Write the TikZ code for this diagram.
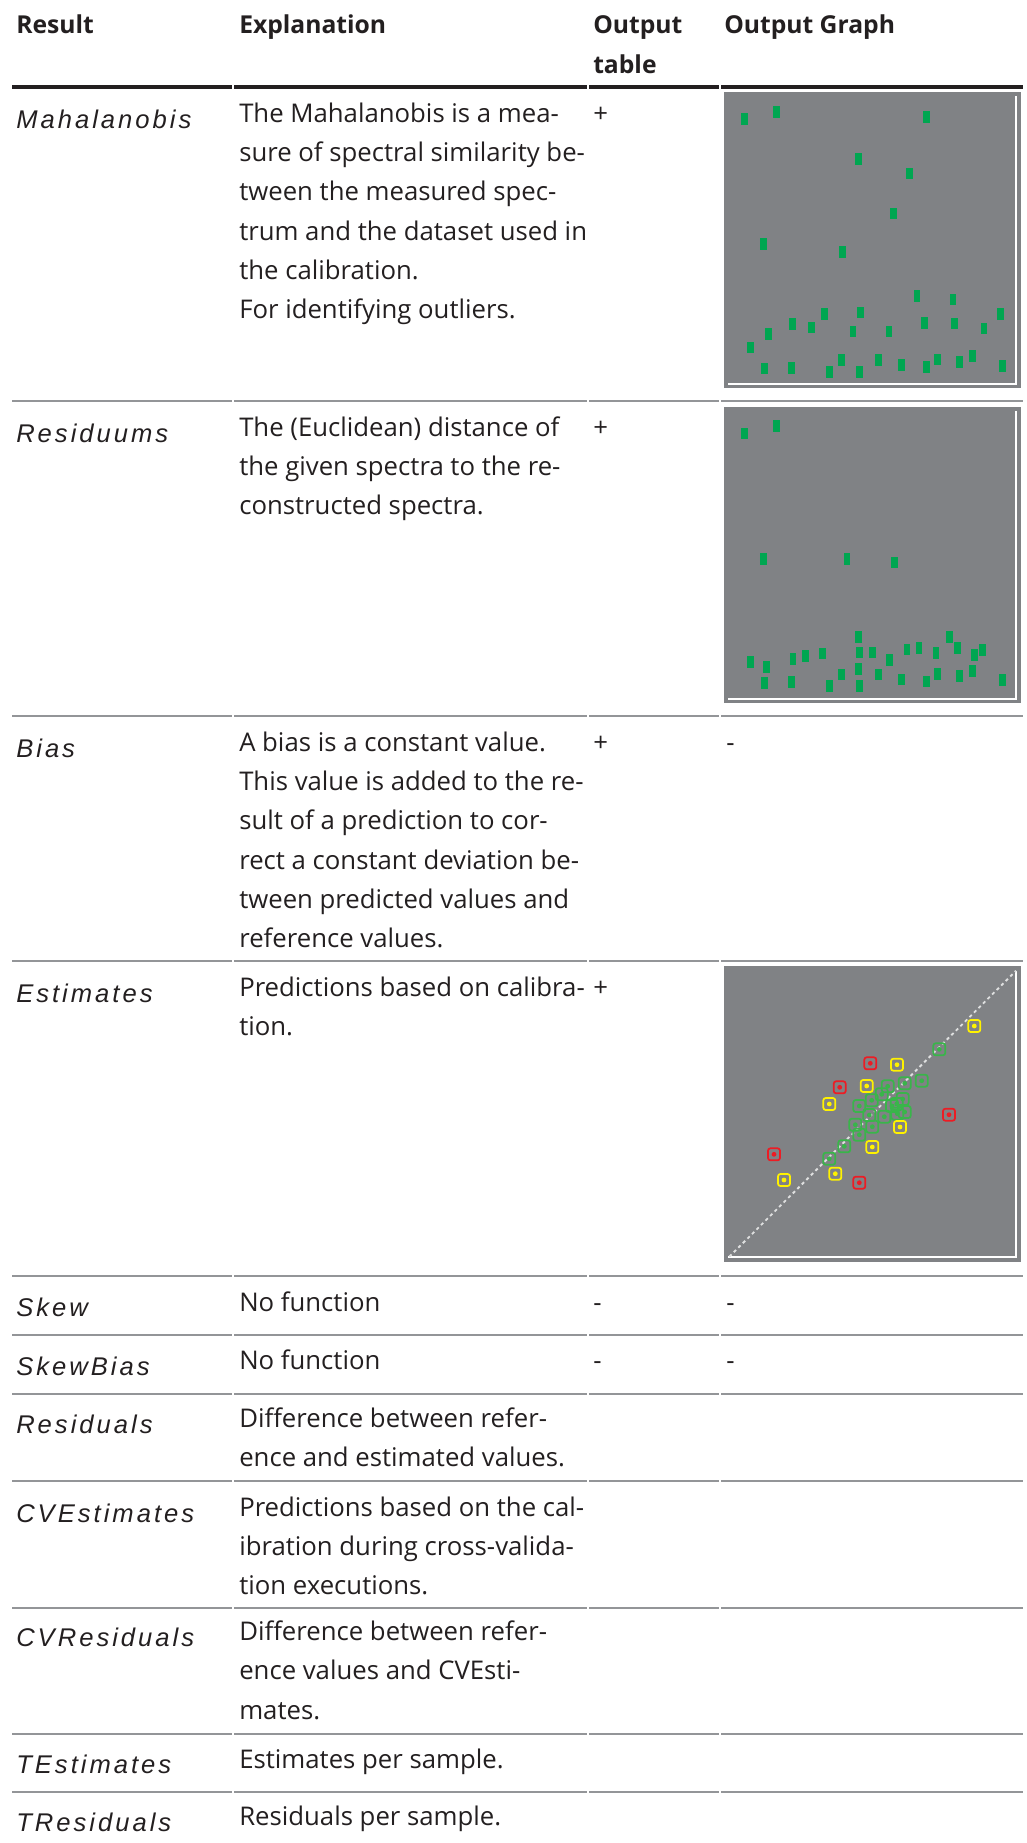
\documentclass[tikz,border=0pt]{standalone}
\usepackage{fontspec}
\setmainfont{Open Sans}
\newfontfamily\lblfont{Liberation Sans}[LetterSpace=11.7]
\usepackage{xcolor}
\usepackage{tikz}
\definecolor{ink}{RGB}{35,31,32}
\definecolor{rulegray}{RGB}{147,149,152}
\definecolor{plotbg}{RGB}{128,130,133}
\definecolor{mgreen}{RGB}{0,166,81}
\definecolor{egreen}{RGB}{57,181,74}
\definecolor{ered}{RGB}{237,28,36}
\definecolor{eyellow}{RGB}{255,242,0}

\begin{document}
\begin{tikzpicture}[x=0.75pt,y=0.75pt,yscale=-1,xscale=1,
  hdr/.style={anchor=base west,inner sep=0pt,text=ink,font=\fontsize{18.5}{30}\selectfont\bfseries},
  lbl/.style={anchor=base west,inner sep=0pt,text=ink,font=\lblfont\itshape\fontsize{19.2}{24}\selectfont},
  expl/.style={anchor=base west,inner sep=0pt,align=left,text=ink,font=\fontsize{19.3}{29.4}\selectfont},
  rowline/.style={draw=rulegray,line width=1pt},
  plotbox/.style={fill=plotbg},
  axisline/.style={draw=white,line width=1.5pt},
  emark/.style={line width=1.3pt,rounded corners=1.8pt}]
\useasboundingbox (0,0) rectangle (1027,1843);

%Straight Lines: header rule
\draw [draw=ink,line width=3pt] (12,87) -- (232,87) (234,87) -- (587,87) (589,87) -- (719,87) (721,87) -- (1023,87);
%Straight Lines: row rules
\foreach \y in {401,716,961,1276,1335,1394,1481,1608,1734,1792}
  \draw [rowline] (12,\y) -- (232,\y) (234,\y) -- (587,\y) (589,\y) -- (719,\y) (721,\y) -- (1023,\y);

% Header (multi-line nodes sit on their last baseline)
\node [hdr] (hres) at (16,33.3) {Result};
\node [hdr] (hexp) at (239,33.3) {Explanation};
\node [hdr,align=left] (htab) at (593,73.3) {Output\\table};
\node [hdr] (hgra) at (724,33.3) {Output Graph};

% Row labels
\node [lbl] (lmah) at (16,128.3) {Mahalanobis};
\node [lbl] (lres) at (16,442) {Residuums};
\node [lbl] (lbia) at (16,757) {Bias};
\node [lbl] (lest) at (16,1002) {Estimates};
\node [lbl] (lske) at (16,1316.5) {Skew};
\node [lbl] (lskb) at (16,1375) {SkewBias};
\node [lbl] (lrsd) at (16,1433) {Residuals};
\node [lbl] (lcve) at (16,1522) {CVEstimates};
\node [lbl] (lcvr) at (16,1646.5) {CVResiduals};
\node [lbl] (ltes) at (16,1773) {TEstimates};
\node [lbl] (ltrs) at (16,1831) {TResiduals};

% Explanations
\node [expl] (emah) at (239,318.5) {The Mahalanobis is a mea-\\sure of spectral similarity be-\\tween the measured spec-\\trum and the dataset used in\\the calibration.\\For identifying outliers.};
\node [expl] (eres) at (239,514.9) {The (Euclidean) distance of\\the given spectra to the re-\\constructed spectra.};
\node [expl] (ebia) at (239,947.5) {A bias is a constant value.\\This value is added to the re-\\sult of a prediction to cor-\\rect a constant deviation be-\\tween predicted values and\\reference values.};
\node [expl] (eest) at (239,1035.7) {Predictions based on calibra-\\tion.};
\node [expl] (eske) at (239,1311) {No function};
\node [expl] (eskb) at (239,1369.5) {No function};
\node [expl] (ersd) at (239,1466.7) {Difference between refer-\\ence and estimated values.};
\node [expl] (ecve) at (239,1594.9) {Predictions based on the cal-\\ibration during cross-valida-\\tion executions.};
\node [expl] (ecvr) at (239,1719.1) {Difference between refer-\\ence values and CVEsti-\\mates.};
\node [expl] (etes) at (239,1768.3) {Estimates per sample.};
\node [expl] (etrs) at (239,1825) {Residuals per sample.};

% Output table / graph marks
\node [expl] (tmah) at (593,122.5) {+};
\node [expl] (tres) at (593,436.5) {+};
\node [expl] (tbia) at (593,751.5) {+};
\node [expl] (test) at (593,996.5) {+};
\node [expl] (tske) at (593,1311) {-};
\node [expl] (tskb) at (593,1369.5) {-};
\node [expl] (gbia) at (726,751.5) {-};
\node [expl] (gske) at (726,1311) {-};
\node [expl] (gskb) at (726,1369.5) {-};

%Shape: Mahalanobis plot
\fill [plotbox] (724,92.3) rectangle (1020.7,388.3);
\draw [axisline] (728,384) -- (1016,384) -- (1016,96);
\foreach \x/\y in {744.3/119,776.3/112,926.7/116.7,858.7/159,909.7/173.3,893.7/213.3,763.3/244,842.3/251.7,
  917/295.7,953/299.3,824.7/314,860.3/312.3,1000.7/314,792.3/324,811.7/327.3,924.3/322.7,954.3/323.3,
  768.3/334,853/331.3,889/331.3,984/328.3,750.3/347.3,764.3/368.3,791.7/367.7,829.3/371.7,841.7/360,
  859.7/371.7,878.7/360,901.3/365,926.3/367,937.7/359.3,959.7/361.7,972.3/356,1002.7/365.7}
  \fill [mgreen] (\x-3.3,\y-5.8) rectangle (\x+3.3,\y+5.8);

%Shape: Residuums plot
\fill [plotbox] (724,406.7) rectangle (1020.7,703.3);
\draw [axisline] (728,699) -- (1016,699) -- (1016,411);
\foreach \x/\y in {744.3/433.3,776.3/426,763.3/558.7,847/558.7,894.3/562.3,858.7/637,949.3/637,
  750.3/661.7,766.7/666.7,793/658.7,805.3/656,822.3/653.3,859.3/652.3,872.7/652.3,889.3/659.7,
  907/649.3,919/647.7,936/653,957.3/647.7,974.7/655,982.3/649.7,858.7/668.7,841.7/674.3,878.7/674.3,
  937.7/673.7,972.3/670.7,764.3/682.7,791.7/681.7,829.3/685.7,859.7/685.7,901.3/679.3,926.3/681.3,
  959.7/675.7,1002.7/680}
  \fill [mgreen] (\x-3.3,\y-5.8) rectangle (\x+3.3,\y+5.8);

%Shape: Estimates plot
\fill [plotbox] (724,966) rectangle (1020.7,1262);
\draw [axisline] (728,1257) -- (1016,1257) -- (1016,970.7);
\draw [color=white!75!plotbg,line width=1.4pt,dash pattern=on 2.4pt off 2.4pt] (729.3,1256.7) -- (1016,970.7);
\foreach \x/\y in {939.3/1049.3,921.7/1080.7,904.7/1083.3,887.7/1086.3,881.7/1094.3,871.7/1100.3,
  902.7/1099,859.3/1106,892/1106,896.7/1104,904.7/1112,897.3/1113.7,869.3/1115,884.3/1116.7,
  855.3/1124.7,872.3/1126.7,859.3/1134.7,844.3/1146.3,829.3/1158.7}
  {\draw [emark,egreen] (\x-6,\y-6) rectangle (\x+6,\y+6); \fill [egreen] (\x,\y) circle (2.4);}
\foreach \x/\y in {974.3/1026,897/1064.7,866.7/1086,829.3/1104,900/1127,872.3/1147,835.3/1173.7,784/1180}
  {\draw [emark,eyellow] (\x-6,\y-6) rectangle (\x+6,\y+6); \fill [eyellow] (\x,\y) circle (2.4);}
\foreach \x/\y in {870.3/1063.3,839.7/1087.3,949/1114.7,774/1154.3,859.3/1182.7}
  {\draw [emark,ered] (\x-6,\y-6) rectangle (\x+6,\y+6); \fill [ered] (\x,\y) circle (2.4);}

\end{tikzpicture}
\end{document}
